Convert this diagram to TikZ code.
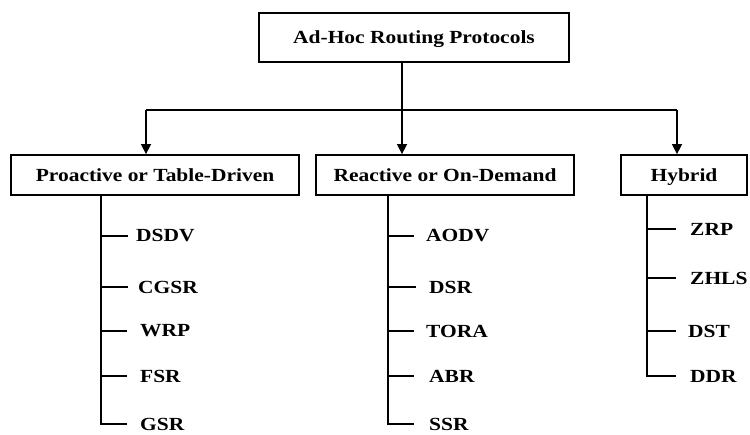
\documentclass[tikz,border=0pt]{standalone}
\usepackage{fontspec}
\setmainfont[FakeStretch=1.16]{Liberation Serif}
\usepackage{tikz}
\usetikzlibrary{arrows.meta,calc,positioning}

\tikzset{
	classbox/.style={draw, line width=1.8pt, minimum height=40pt, inner sep=0pt, text height=12.2pt, text depth=0pt},
	leaf/.style={anchor=west, inner sep=0pt},
	link/.style={line width=1.5pt},
	tip/.style={-{Triangle[width=10pt,length=10pt]}}
}

\begin{document}
\begin{tikzpicture}[x=1pt, y=-1pt, font=\fontsize{18.5}{21}\selectfont\bfseries]
		\useasboundingbox (0,0) rectangle (750,434);
		% classes
		\node[classbox, minimum width=310pt, minimum height=49pt] (adhoc) at (414,37.5) {Ad-Hoc Routing Protocols};
		\node[classbox, minimum width=288pt] (pro) at (155,175) {Proactive or Table-Driven};
		\node[classbox, minimum width=258pt] (rea) at (445,175) {Reactive or On-Demand};
		\node[classbox, minimum width=126pt] (hyb) at (684,175) {Hybrid};
		\coordinate (split) at (402,110);
		\coordinate (bar-l) at (146,110);
		\coordinate (bar-r) at (677,110);
		\draw[link] (adhoc.south -| split) -- (split);
		\draw[link] (bar-l) -- (bar-r);
		\draw[link,tip] (bar-l) -- (bar-l |- pro.north);
		\draw[link,tip] (split) -- (split |- rea.north);
		\draw[link,tip] (bar-r) -- (bar-r |- hyb.north);
		% proactive
		\coordinate (pro-stem) at (101,195);
		\node[leaf] (dsdv) at (136,236) {DSDV};
		\node[leaf] (cgsr) at (138,287) {CGSR};
		\node[leaf] (wrp) at (140,331) {WRP};
		\node[leaf] (fsr) at (140,376) {FSR};
		\node[leaf] (gsr) at (140,424) {GSR};
		\draw[link] (pro-stem) |- ([xshift=-8pt]dsdv.west);
		\draw[link] (pro-stem) |- ([xshift=-10pt]cgsr.west);
		\draw[link] (pro-stem) |- ([xshift=-13pt]wrp.west);
		\draw[link] (pro-stem) |- ([xshift=-13pt]fsr.west);
		\draw[link] (pro-stem) |- ([xshift=-13pt]gsr.west);
		% reactive
		\coordinate (rea-stem) at (388,195);
		\node[leaf] (aodv) at (426,236) {AODV};
		\node[leaf] (dsr) at (429,287) {DSR};
		\node[leaf] (tora) at (426,331) {TORA};
		\node[leaf] (abr) at (429,376) {ABR};
		\node[leaf] (ssr) at (429,424) {SSR};
		\draw[link] (rea-stem) |- ([xshift=-12pt]aodv.west);
		\draw[link] (rea-stem) |- ([xshift=-13pt]dsr.west);
		\draw[link] (rea-stem) |- ([xshift=-12pt]tora.west);
		\draw[link] (rea-stem) |- ([xshift=-15pt]abr.west);
		\draw[link] (rea-stem) |- ([xshift=-15pt]ssr.west);
		% hybrid
		\coordinate (hyb-stem) at (647,195);
		\node[leaf] (zrp) at (690,229) {ZRP};
		\node[leaf] (zhls) at (690,278) {ZHLS};
		\node[leaf] (dst) at (688,331) {DST};
		\node[leaf] (ddr) at (690,376) {DDR};
		\draw[link] (hyb-stem) |- ([xshift=-14pt]zrp.west);
		\draw[link] (hyb-stem) |- ([xshift=-14pt]zhls.west);
		\draw[link] (hyb-stem) |- ([xshift=-12pt]dst.west);
		\draw[link] (hyb-stem) |- ([xshift=-14pt]ddr.west);
	\end{tikzpicture}
\end{document}
